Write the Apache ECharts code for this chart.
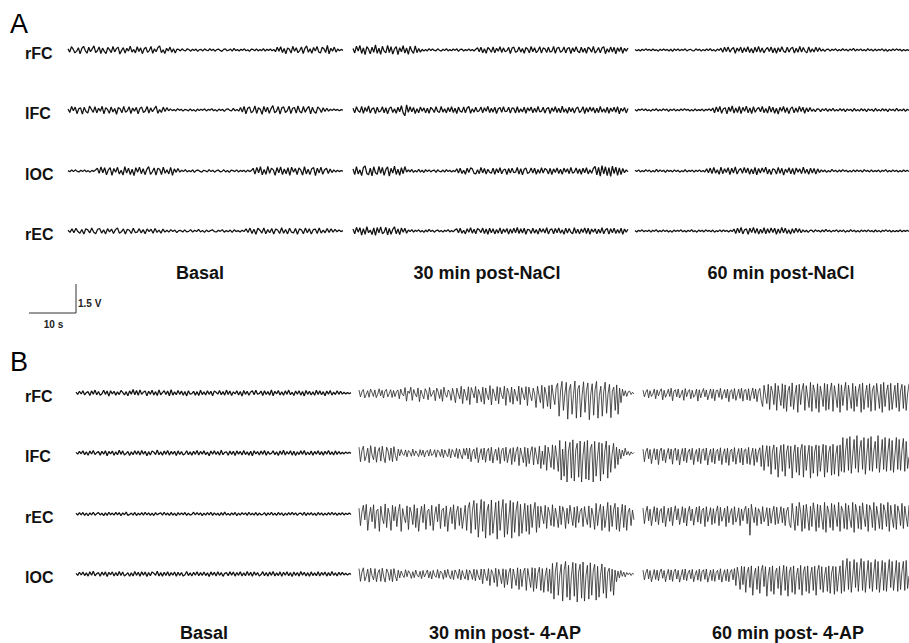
<!DOCTYPE html>
<html><head><meta charset="utf-8">
<script src="https://cdn.jsdelivr.net/npm/echarts@6/dist/echarts.min.js"></script>
<style>html,body{margin:0;padding:0;background:#fff}#c{width:909px;height:643px}</style>
</head><body><div id="c"></div>
<script>
// ---------- labels ----------
const channelsA = ['rFC', 'lFC', 'lOC', 'rEC'];
const channelsB = ['rFC', 'lFC', 'rEC', 'lOC'];
const conditionsA = ['Basal', '30 min post-NaCl', '60 min post-NaCl'];
const conditionsB = ['Basal', '30 min post- 4-AP', '60 min post- 4-AP'];
const segmentSeconds = 58.5;      // length of each recording segment (s)
const scaleBarSeconds = 10;       // "10 s"
const scaleBarMV = 1500;          // "1.5 V"

// ---------- traces (mV) ----------
// Panel A
const A_rFC_basal = [60,-110,170,40,-150,-60,120,-200,80,190,-30,-170,140,-90,60,210,-130,-40,160,-180,100,-70,-190,130,20,-140,180,-100,70,150,-210,-20,120,-160,90,-60,200,-110,30,-150,170,-80,110,-190,50,140,-120,-30,180,-170,60,-90,130,210,-140,10,-180,90,-50,150,-120,70,-160,40,30,-50,60,-20,-40,70,10,-60,40,-30,50,-70,20,30,-50,60,-10,-40,70,-30,40,-60,20,50,-20,-70,30,60,-40,-10,50,-60,80,-30,20,-50,40,-20,60,-40,10,-70,50,30,-40,60,-50,20,-30,70,-60,40,-20,50,-40,30,-90,140,-60,170,-130,80,-200,110,40,-160,190,-70,120,-140,-30,160,-190,90,210,-120,60,-170,130,-50,180,-100,-160,140,70,-130,240,-200,90,-60,150,-110,50,-40,30,-20];
const A_lFC_basal = [50,-130,180,-40,150,-190,70,110,-210,140,-80,-160,200,40,-120,170,-150,90,-60,190,-200,120,30,-170,160,-100,80,-220,130,60,-140,190,-110,-40,170,-180,100,-60,140,-200,80,150,-130,-50,180,-160,110,-90,60,200,-170,20,-130,150,-80,120,-40,60,-30,20,-50,70,-20,40,-60,30,10,-50,60,-40,20,-70,50,-30,40,-20,60,-50,30,-10,70,-40,20,-60,50,-30,40,-70,30,60,-20,-50,80,-40,30,-60,130,-110,180,-200,90,160,-150,-60,210,-180,120,40,-220,190,-100,150,-170,70,230,-140,-60,180,-210,110,160,-130,-40,200,-190,90,130,-160,210,-80,-150,180,-120,70,190,-200,140,-90,-170,160,60,-130,120,-80,90,-60,40,-30,50,-20,30,-40,20,-10];
const A_lOC_basal = [20,-40,50,-30,60,-20,-50,40,-30,60,-40,20,-60,30,-20,50,150,-120,210,-90,170,-200,60,180,-230,130,-70,190,-160,40,-210,220,-110,150,-180,90,-240,170,-60,200,-140,120,-190,80,230,-170,-40,160,-210,140,90,-180,200,-120,60,-150,190,-220,110,-70,130,-60,40,-30,70,-50,20,-40,60,-70,30,50,-20,-60,40,10,-50,70,-30,40,-60,20,50,-40,-20,60,-50,30,-70,40,20,-30,60,-50,30,-20,40,-60,50,-30,20,140,-160,190,-90,220,-200,80,-170,240,-120,150,60,-220,180,-90,210,-190,100,-140,170,-230,200,-60,130,-180,160,40,-210,230,-150,90,-190,120,180,-240,150,-100,200,-170,60,140,-130,100,-80,60,-50,40,-30,20,-10];
const A_rEC_basal = [40,-70,110,-90,140,-30,-120,80,-160,120,60,-100,150,-70,-140,90,130,-110,60,-150,120,-50,100,-130,70,160,-120,-40,110,-150,90,40,-130,140,-80,-60,120,-100,70,-140,110,-30,90,-120,130,-70,50,-110,100,-60,40,-60,70,-30,50,-80,20,30,-50,60,-40,-20,70,-60,40,-30,80,-50,30,-70,50,-40,20,60,-30,-50,40,-20,70,-60,30,-40,50,-70,60,-30,20,-50,40,-30,110,-80,150,-130,90,-170,140,40,-110,160,-140,70,-90,130,-160,100,50,-130,170,-120,80,-150,140,-60,-100,130,-170,110,60,-140,150,-90,120,-160,70,100,-130,160,-110,40,-90,130,-70,110,-60,80,-40,50,-30,20];
const A_rFC_nacl30 = [80,-150,200,-60,230,-180,110,-240,170,40,-200,150,-120,260,-170,90,-220,190,-60,-150,240,-130,170,-210,60,180,-240,120,-90,220,-160,100,-230,190,-50,-180,210,-140,80,-110,40,-60,30,-50,70,-30,50,-20,-40,60,-10,-60,40,-30,70,-50,20,-40,50,-20,60,-70,30,40,-50,20,-30,60,-40,30,-50,40,120,-90,150,-140,60,-170,130,40,-120,160,-150,90,-60,170,-130,110,-90,-40,140,-180,100,150,-120,-70,160,-110,80,-170,130,50,-150,180,-90,120,-140,-30,170,-160,110,60,-130,150,-100,-70,180,-170,90,140,-120,-50,160,-150,80,130,-180,110,-90,170,-60,-140,150,-120,90,-170,140,60,-110,180,-160,-40,130,-150,100,170,-190,70,-120,160,-100,140,-200,120,-80,150,-170,90,-60,100];
const A_lFC_nacl30 = [90,-150,170,-40,-120,190,-170,130,-80,210,-160,60,110,-190,150,-100,-50,170,-140,120,-200,80,160,-130,60,-170,140,-90,220,-150,-300,260,-120,170,-90,130,-180,70,-140,160,-60,110,-150,90,-170,140,40,-130,170,-80,-120,180,-110,60,-150,130,-90,170,-130,90,-180,150,-60,-110,160,-140,100,180,-170,70,-120,140,-90,-40,160,-150,120,-70,190,-140,90,-110,150,-180,60,130,-120,170,-90,-60,140,-160,110,80,-150,170,-130,60,-100,150,-170,120,-50,160,-140,90,-120,180,-100,-60,140,-160,70,130,-190,110,-80,170,-130,90,-150,200,-120,60,-170,140,-90,110,-160,80,150,-130,-40,170,-180,120,-100,150,-70,130,-160,90,-140,180,-110,60,-130,150,-170,100,-80,140,-120,170,-200,90,-60,130,-150,80];
const A_lOC_nacl30 = [110,-190,230,-150,60,-240,180,260,-130,-200,150,-250,220,-90,-170,240,-120,190,-230,80,210,-260,140,-110,250,-180,100,-220,170,-140,230,-60,60,-40,80,-70,30,-50,90,-60,40,-80,70,-30,60,-50,20,40,-70,60,-20,-40,50,-60,70,-30,40,-50,30,-40,120,-100,150,-130,40,-170,140,-80,160,110,-120,-150,70,-140,180,-100,130,-160,90,-60,-120,150,-170,120,-90,170,-140,50,100,-180,130,-110,150,-90,-60,180,-160,120,-200,90,150,-130,-70,160,-110,140,-170,80,-120,170,-100,130,60,-150,140,-180,110,-80,160,-130,90,-170,150,-60,120,-140,180,-110,-50,160,-130,100,-170,140,-90,170,-150,60,-120,130,240,-200,190,-260,280,-150,220,-240,170,-280,250,-130,200,-230,160,-180,130,-90,60,-40];
const A_rEC_nacl30 = [100,-150,190,-60,170,-210,120,-170,220,-90,50,-180,160,-230,180,-100,210,-140,-60,190,-200,130,-170,80,220,-150,110,-190,160,-70,140,-120,50,-30,70,-60,40,-20,60,-50,30,-70,50,-40,80,-30,40,-60,20,50,-40,30,-60,40,-20,70,-50,30,-40,60,110,-90,140,-120,40,-150,120,-60,170,-110,90,-140,130,60,-80,150,-130,100,-170,140,-90,120,-150,80,-110,160,-140,100,-70,130,-160,110,-120,150,-90,180,-130,120,-100,140,-170,90,60,-130,150,-110,80,-160,140,-70,120,-100,170,-150,60,110,-140,130,-90,160,-120,70,-170,150,-100,130,-60,-140,170,-120,90,-150,110,-80,160,-130,140,-170,100,-60,120,-150,90,-110,170,-140,60,130,-160,120,-90,150,-130,80,-110,140,-170,100,-60,90];
const A_rFC_nacl60 = [30,-40,20,-50,40,-30,60,-20,30,-40,50,-30,20,-60,40,-30,50,-20,30,-50,40,-70,60,-30,50,-40,30,-20,60,-50,10,40,-30,-50,60,-20,40,-60,30,-40,50,-30,70,-40,20,-60,50,-20,90,-120,140,-80,160,-110,50,130,-170,100,-60,150,-140,120,-90,170,-130,80,-160,140,-100,190,-120,110,-150,30,130,-80,160,-140,100,-170,120,-90,170,-60,-130,150,-110,80,140,-160,90,-120,180,-100,130,-70,-150,160,-120,60,-100,140,-80,110,-60,40,-70,30,50,-60,40,-20,60,-50,30,-40,70,-30,40,-60,50,-20,80,-50,40,-30,60,-40,20,-50,70,-30,40,-60,50,-40,30,-20,60,-50,40,-70,30,-40,50,-30,60,-20,40,-50,30,-40,20,-30];
const A_lFC_nacl60 = [30,-50,40,-20,60,-30,50,-40,20,-60,40,-30,70,-50,30,-40,60,-20,50,-70,40,-30,60,-50,20,-40,50,-30,70,-20,40,-60,30,-50,60,-40,20,-30,50,-60,40,-20,60,-40,100,-140,160,-90,190,-170,60,120,-200,150,-80,210,-160,100,-130,180,-190,140,-70,200,-150,110,-180,170,-120,50,130,-90,190,-140,80,-160,200,-110,150,-170,90,-210,140,-60,180,-130,120,-190,70,160,-150,100,-120,190,-80,140,-170,110,-90,130,-70,50,-90,60,40,-80,60,-30,80,-70,50,-40,90,-60,30,-50,70,-40,60,-80,50,-30,40,-70,80,-50,30,-60,70,-40,50,-90,60,-30,40,-70,80,-50,30,-60,70,-40,50,-80,60,-30,40,-60,90,-50,30,-40,60,-70,40,-30];
const A_lOC_nacl60 = [40,-30,60,-50,30,-40,70,-20,50,-60,30,-50,80,-40,60,-30,40,-70,50,-20,30,-50,60,-30,40,-60,20,-40,70,-50,30,-20,50,-60,40,-30,60,-40,30,-50,110,-90,150,-130,180,-110,60,-170,200,-140,120,-80,170,-190,140,-100,210,-160,40,130,-120,190,-90,150,-170,110,-140,180,-200,130,-100,160,-70,200,-150,90,-180,120,60,-160,190,-120,140,-210,100,-80,170,-150,130,-190,160,-60,110,-140,200,-120,90,-170,150,-100,130,-160,110,-80,60,-40,50,-70,30,-50,80,-30,40,-60,50,-40,70,-20,40,-60,30,-50,60,-40,50,-30,40,-60,70,-20,30,-50,60,-40,20,-30,50,-60,40,-20,70,-50,30,-40,60,-30,40,-50,20,-40,50,-30,40,-20];
const A_rEC_nacl60 = [30,-50,40,-20,60,-40,30,-30,50,-60,40,-20,70,-50,30,-40,60,-30,40,-50,20,-60,50,-30,40,-20,60,-40,30,-50,40,-30,70,-40,20,-60,50,-30,40,-50,60,-20,30,-40,50,-60,20,-30,60,-40,50,-20,30,-50,40,-30,100,-130,150,-90,180,-150,60,110,-170,140,-80,190,-120,130,-160,90,-110,170,-140,120,-100,160,-80,140,-170,100,-120,180,-90,150,-130,70,-160,120,-100,140,-70,110,-90,60,-50,40,-70,30,40,-60,60,-20,30,-50,50,-40,80,-30,40,-60,30,-20,60,-50,40,-30,50,-60,20,-40,70,-30,40,-50,30,-60,50,-20,40,-40,60,-30,20,-50,50,-40,30,-60,40,-20,60,-30,40,-50,30,-40,20,-30,50,-40,30,-20,40,-30];
// Panel B
const B_rFC_basal = [40,-70,90,-50,120,-100,20,70,-130,110,-60,150,-90,80,-120,-40,140,-70,100,-160,120,-50,90,-110,60,-80,130,30,-100,70,-140,110,-60,180,-90,130,-120,160,-70,40,110,-150,90,-60,140,-100,70,-130,160,-90,20,120,-80,100,-140,170,-110,60,-90,130,-70,100,-120,80,-150,120,-60,-30,90,-110,70,-130,140,-80,60,-100,120,-70,90,-140,110,40,-60,130,-90,70,-110,150,-80,100,-130,60,-50,120,-100,80,-160,130,-70,90,-120,50,110,-90,140,-60,-30,100,-130,120,-80,70,-110,160,-140,90,-50,130,-100,60,-120,110,-70,150,-90,40,-130,100,-60,120,-110,80,-150,130,-70,90,-100,60,-120,140,-80,110,-90,70,-140,100,-60,130,-110,50,-80,120,-70,90,-60,40,-50,30,-40,20];
const B_lFC_basal = [30,-60,80,-40,110,-90,60,-120,100,-50,130,-80,20,70,-110,90,-60,120,-140,80,-50,100,-120,60,-90,140,-70,110,-100,-30,80,-130,60,-90,120,-70,100,-110,130,-60,90,-140,70,-100,110,40,-80,150,-90,60,-120,100,-70,130,-110,80,-60,90,-130,110,-80,70,-100,-40,120,-90,60,-110,90,-70,130,-100,80,-60,110,-90,50,-140,100,-60,120,-80,70,-110,140,-90,30,60,-120,100,-70,90,-130,110,-60,80,-100,130,-80,60,-110,90,-140,120,-50,70,-100,100,-70,130,-120,80,-60,-20,110,-90,60,-130,100,-80,140,-100,70,-60,120,-110,90,-130,60,-80,110,-70,130,-100,50,-90,100,-120,80,-60,120,-90,70,-110,90,-60,130,-80,60,-100,110,-70,80,-60,40,-50,60,-30,40,-20];
const B_rEC_basal = [40,-60,70,-40,80,-70,50,-90,60,-40,90,-60,20,70,-50,40,-80,60,-70,90,-40,50,-60,80,-50,70,-90,60,-40,100,-70,-20,50,-60,80,-80,40,-50,70,-60,90,-50,60,-70,40,-80,70,-40,20,60,-60,90,-50,50,-70,80,-60,40,-90,70,-50,60,-40,80,-70,50,-60,-20,90,-50,70,-40,60,-80,50,-60,70,-40,90,-70,60,-50,40,-80,70,-60,100,-50,30,-70,60,-40,80,-90,50,-60,70,-30,60,-70,90,-50,40,-60,80,-70,50,-40,-20,70,-80,60,-50,90,-60,40,-70,80,-40,60,-90,50,-60,70,-50,80,-40,60,-70,30,50,-60,90,-80,60,-40,70,-60,50,-80,80,-50,60,-70,40,-60,70,-50,90,-40,60,-70,50,-40,70,-50,40,-30,50,-20];
const B_lOC_basal = [30,-70,90,-50,100,-80,60,-110,120,-60,140,-90,20,70,-120,100,-60,110,-130,90,-40,110,-100,70,-90,130,-80,100,-110,-30,70,-120,60,-100,130,-70,90,-120,120,-60,100,-130,80,-90,110,40,-70,140,-100,70,-110,90,-80,120,-100,70,-60,100,-120,90,-70,80,-110,-40,130,-80,60,-100,90,-60,120,-90,70,-70,100,-80,60,-130,110,-60,90,-100,120,-70,80,-120,30,70,-90,110,-60,100,-110,80,-70,120,-100,60,-90,130,-80,90,-120,110,-60,70,-100,-30,120,-90,80,-110,100,-70,130,-100,60,-80,110,-120,90,-60,120,-90,70,-130,100,-70,80,-110,130,-60,90,-100,70,-120,110,-80,60,-90,120,-100,80,-60,100,-110,70,-90,130,-70,60,-100,90,-60,80,-50,40,-60,30,-20];
const B_rFC_ap30 = [150,-200,60,180,-250,-80,120,-220,200,40,-180,160,-240,-60,220,-150,140,-260,90,190,-200,-30,170,-230,130,-190,60,160,-300,200,-60,-150,280,-420,100,-20,300,-380,180,-50,-200,260,-450,150,-80,-300,220,40,-350,290,-180,-40,140,-400,250,60,-280,180,-430,300,-70,-220,160,20,-380,240,-100,-500,250,-50,-300,350,-550,200,-80,-380,320,-600,280,30,-250,340,-520,180,-60,-450,300,-580,260,-100,-350,380,-620,220,-40,-400,330,-560,290,-90,-300,350,-640,250,10,-480,310,-580,200,-120,-420,360,-600,280,-60,-350,330,-650,300,-80,-400,250,-50,-750,350,-100,-500,400,-800,300,-60,-700,380,-820,420,-150,-600,300,500,-1200,100,600,-900,-50,550,-1350,150,450,-1100,-80,620,-1300,200,400,-1250,-100,580,-1000,120,520,-1380,-60,480,-1150,180,600,-1300,-120,350,-1200,60,560,-1050,-40,450,-1280,100,300,-900,420,-1100,250,-500,200,-150,120,-180,60,100,-80,40,-50];
const B_lFC_ap30 = [300,-450,120,350,-400,-150,250,-500,380,-100,-350,320,-480,80,280,-420,350,-200,-500,300,100,-380,260,-450,330,-120,-400,200,-150,180,-60,-120,160,-200,130,40,-170,200,-140,110,-30,-190,170,-120,150,-210,60,140,-160,190,-130,-50,170,-220,150,80,-180,200,-240,160,-60,-190,220,-260,180,30,-200,240,-280,200,-90,-300,230,-120,260,-310,250,-450,60,200,-300,280,-500,-80,220,-350,260,-480,100,240,-400,300,-520,-40,200,-380,280,-550,120,250,-420,300,-500,-60,230,-600,280,-450,80,320,-650,260,-100,-500,300,-700,250,-550,60,330,-620,280,-150,-580,350,-800,100,-600,400,-900,300,-150,-750,420,-850,380,-200,-950,650,-1400,200,-1200,600,-1500,100,550,-1300,680,-1450,150,500,-1250,620,-1500,-100,580,-1350,650,-1400,200,450,-1500,600,-1200,-150,550,-1450,500,-1100,100,620,-1300,400,-1000,-50,500,-800,300,-600,200,-300,150,-150,250,-100,80,-120,60,-50,30];
const B_rEC_ap30 = [300,-600,100,450,-300,500,-850,-100,350,-400,480,-750,150,250,-900,400,-200,-500,520,-700,300,-50,-850,450,-350,380,-650,120,500,-900,280,-150,-450,420,-800,350,60,-550,480,-700,300,-900,-100,400,-450,500,-800,150,250,-600,450,-850,-60,380,-400,520,-750,200,300,-650,420,-900,-80,350,-500,480,-800,100,400,-600,320,-750,-150,450,-850,300,600,-1000,200,700,-800,550,-1200,-100,750,-900,650,-1250,150,500,-1100,720,-1000,-200,600,-1300,680,-850,100,750,-1200,550,-1050,-150,700,-1250,600,-950,200,650,-1150,500,-1000,-100,550,-900,450,-1050,500,-700,150,600,-950,400,-700,400,-100,-500,450,-750,350,60,-600,480,-650,300,-150,-700,420,-550,380,100,-750,300,-500,450,-80,-600,350,-700,400,-450,120,300,-650,380,-200,-550,420,-700,300,-100,-800,550,-600,100,500,-850,400,-700,-150,600,-900,450,-650,200,550,-800,350,-900,-100,500,-700,450,-850,100,300,-600,200,-300];
const B_lOC_ap30 = [280,-380,100,320,-350,-120,250,-420,300,-80,-300,280,-400,60,230,-380,300,-150,-420,260,80,-330,240,-400,280,-100,-360,200,-200,150,-60,-180,220,-140,170,40,-230,120,-190,200,-60,-160,140,-240,180,-150,30,210,-200,130,-260,190,-80,-170,230,-220,150,60,-270,200,-180,240,-100,-250,170,-290,210,40,-230,250,-300,180,-90,-260,230,-320,200,20,-280,250,-350,220,-100,-300,260,-500,250,-80,-350,280,-600,220,20,-450,300,-650,240,-100,-500,270,-700,230,-550,60,300,-750,260,-150,-600,320,-800,250,-650,100,300,-850,280,-200,-700,330,-900,300,-750,50,350,-850,280,-950,-100,320,-900,250,-1000,550,-1300,150,600,-1100,-50,500,-1400,200,650,-1200,450,-1350,-100,600,-1150,550,-1450,100,500,-1250,620,-1400,-80,450,-1300,580,-1100,150,500,-1350,400,-1200,-60,520,-1000,350,-1250,100,300,-900,250,-1100,200,-400,150,-200,180,-120,100,-150,80,-40,60,-80,40,-20];
const B_rFC_ap60 = [150,-200,40,180,-250,120,-180,-60,200,-300,160,-150,80,220,-350,140,-220,-40,190,-180,250,-400,100,170,-200,210,-260,-80,150,-380,230,-190,60,180,-300,140,-220,-100,200,-420,170,-250,50,230,-200,160,-350,-60,210,-280,190,-400,120,150,-230,240,-330,-40,180,-260,200,-450,100,170,-300,230,-380,-90,200,-280,250,-420,140,180,-350,220,-400,-60,260,-300,210,-450,80,240,-380,-700,400,-100,-550,450,-850,350,60,-600,500,-900,380,-150,-650,480,-800,420,-950,100,350,-700,520,-850,-80,400,-1000,450,-600,150,500,-900,380,-200,-750,550,-950,420,50,-800,480,-1000,350,-100,-700,500,-900,450,-850,120,520,-950,380,-150,-750,480,-1000,420,-650,80,550,-900,400,-200,-800,500,-950,350,-700,100,450,-1000,520,-850,-60,400,-750,480,-950,150,380,-900,500,-100,-800,450,-1000,550,-700,60,420,-900,500,-850,-150,400,-750,520,-950,100,450,-800,380,-900,-50,480];
const B_lFC_ap60 = [200,-450,60,250,-300,180,-550,-80,230,-350,200,-600,100,260,-400,180,-500,-40,240,-320,210,-580,120,250,-380,190,-620,-100,230,-420,260,-500,50,200,-350,240,-600,-60,180,-450,250,-550,140,220,-380,260,-620,-120,200,-480,240,-560,80,190,-400,270,-600,-50,220,-500,250,-640,100,200,-450,280,-580,-80,230,-500,260,-620,150,210,-550,290,-600,-100,250,-650,220,-480,60,270,-700,400,-900,-100,380,-700,350,-1100,100,420,-850,300,-1250,-150,400,-950,450,-1200,60,380,-800,350,-1300,-50,420,-1000,300,-1150,150,450,-1250,380,-900,-100,400,-1300,350,-1050,80,420,-1200,380,-950,-150,450,-1250,400,-1000,50,350,-1150,450,-1100,-80,380,-1200,420,-950,800,-1000,150,750,-900,850,-1050,-100,700,-800,900,-1000,200,650,-850,800,-1100,-50,750,-900,850,-950,100,600,-800,900,-1000,-150,700,-850,800,-950,50,750,-900,650,-1000,-100,800,-850,700,-900,150,750,-950,600,-800,-200];
const B_rEC_ap60 = [300,-500,80,400,-350,250,-600,-60,380,-400,320,-550,150,280,-450,400,-650,-100,300,-380,350,-600,60,420,-300,280,-550,-150,380,-450,300,-620,100,400,-350,260,-580,-50,350,-420,400,-500,200,300,-650,380,-400,-80,330,-550,280,-480,120,420,-600,350,-380,-100,300,-650,400,-450,50,280,-550,380,-420,-150,320,-600,260,-350,180,400,-500,300,-1100,500,-60,-450,350,-600,280,100,-520,380,-400,-120,330,-620,300,-480,60,400,-550,350,-500,-100,380,-450,300,-600,150,350,-500,-700,550,-200,-850,400,-600,600,100,-900,450,-750,500,-150,-850,400,-650,580,50,-900,500,-700,450,-200,-800,600,-950,420,100,-700,550,-850,480,-100,-650,600,-900,400,150,-750,550,-800,450,-250,-700,600,-950,500,100,-750,420,-800,580,-150,-650,500,-900,450,200,-700,600,-850,400,-100,-750,550,-800,480,150,-650,600,-900,450,-200,-700,500,-800,420,100,-600,550,-750,400,-150,-650,450];
const B_lOC_ap60 = [200,-300,60,250,-250,180,-400,-80,230,-280,200,-350,100,260,-220,180,-400,-40,240,-300,210,-380,120,250,-260,190,-420,-100,230,-300,260,-350,50,200,-250,240,-400,-60,180,-320,250,-380,140,220,-280,260,-420,-120,200,-340,240,-380,80,190,-300,270,-420,-50,220,-350,250,-400,100,230,-300,280,-600,350,-100,-800,400,-550,380,-950,80,350,-700,420,-1100,-50,300,-800,400,-1000,150,450,-650,380,-1150,-100,350,-900,420,-1050,60,300,-750,400,-1100,-150,450,-850,380,-1150,100,350,-950,420,-1050,-80,300,-800,450,-1100,120,380,-900,420,-1000,-60,350,-850,400,-1100,150,450,-800,380,-950,-100,350,-900,420,-1000,50,400,-1050,380,-900,-120,420,-1000,700,-900,150,800,-800,650,-950,-100,750,-700,600,-900,200,800,-850,650,-950,-50,700,-750,600,-900,100,750,-800,650,-950,-150,700,-850,600,-900,50,750,-700,650,-850,-100,700,-900,600,-800,150,650,-850,700,-750,-100];

// ---------- layout ----------
const mvPerPx = 1500 / 29;           // vertical scale of the recordings
const pxPerSec = 47 / 10;            // horizontal scale of the recordings
const yLim = 2100;
const gridH = 2 * yLim / mvPerPx;
const segW = segmentSeconds * pxPerSec;
const FONT = '"Liberation Sans", Arial, sans-serif';

const panels = [
  { letter: 'A', letterY: 25, rows: [50, 110, 171, 231], segX: [68, 353, 635],
    channels: channelsA, conds: conditionsA, condX: [200, 487, 781], condY: 273,
    seizure: [false, false, false],
    traces: [[A_rFC_basal, A_rFC_nacl30, A_rFC_nacl60],
             [A_lFC_basal, A_lFC_nacl30, A_lFC_nacl60],
             [A_lOC_basal, A_lOC_nacl30, A_lOC_nacl60],
             [A_rEC_basal, A_rEC_nacl30, A_rEC_nacl60]] },
  { letter: 'B', letterY: 363, rows: [393, 453, 514, 574], segX: [76, 359, 643],
    channels: channelsB, conds: conditionsB, condX: [204, 505, 788], condY: 633,
    seizure: [false, true, true],
    traces: [[B_rFC_basal, B_rFC_ap30, B_rFC_ap60],
             [B_lFC_basal, B_lFC_ap30, B_lFC_ap60],
             [B_rEC_basal, B_rEC_ap30, B_rEC_ap60],
             [B_lOC_basal, B_lOC_ap30, B_lOC_ap60]] }
];

const grid = [], xAxis = [], yAxis = [], series = [], graphic = [];
let gi = 0;
panels.forEach(p => {
  graphic.push({ type: 'text', left: 10, top: p.letterY - 15, silent: true,
    style: { text: p.letter, font: '27px ' + FONT, fill: '#000' } });
  p.rows.forEach((y, r) => {
    graphic.push({ type: 'text', x: 25, y: y + 3, silent: true,
      style: { text: p.channels[r], font: 'bold 16px ' + FONT, fill: '#111',
               textAlign: 'left', textVerticalAlign: 'middle' } });
    p.segX.forEach((x0, s) => {
      const arr = p.traces[r][s];
      const sz = p.seizure[s];
      grid.push({ left: x0, top: y - gridH / 2, width: segW, height: gridH });
      xAxis.push({ type: 'value', gridIndex: gi, min: 0, max: segmentSeconds, show: false });
      yAxis.push({ type: 'value', gridIndex: gi, min: -yLim, max: yLim, show: false });
      series.push({ type: 'line', xAxisIndex: gi, yAxisIndex: gi, showSymbol: false,
        silent: true, animation: false,
        lineStyle: { width: sz ? 0.8 : 1.25, color: sz ? '#262626' : '#111', join: 'bevel' },
        data: arr.map((v, i) => [i * segmentSeconds / (arr.length - 1), v]) });
      gi++;
    });
  });
  p.conds.forEach((c, s) => {
    graphic.push({ type: 'text', x: p.condX[s], y: p.condY, silent: true,
      style: { text: c, font: 'bold 18px ' + FONT, fill: '#111',
               textAlign: 'center', textVerticalAlign: 'middle' } });
  });
});

// scale bar
const sbX = 76, sbY = 313;
const sbW = scaleBarSeconds * pxPerSec, sbH = scaleBarMV / mvPerPx;
graphic.push({ type: 'polyline', silent: true,
  shape: { points: [[sbX - sbW, sbY], [sbX, sbY], [sbX, sbY - sbH]] },
  style: { stroke: '#333', lineWidth: 1, fill: null } });
graphic.push({ type: 'text', x: sbX + 2, y: sbY - 10, silent: true,
  style: { text: (scaleBarMV / 1000) + ' V', font: 'bold 10px ' + FONT, fill: '#222',
           textAlign: 'left', textVerticalAlign: 'middle' } });
graphic.push({ type: 'text', x: sbX - sbW / 2 + 1, y: sbY + 11, silent: true,
  style: { text: scaleBarSeconds + ' s', font: 'bold 10px ' + FONT, fill: '#222',
           textAlign: 'center', textVerticalAlign: 'middle' } });

const chart = echarts.init(document.getElementById('c'), null, { renderer: 'svg' });
chart.setOption({ animation: false, backgroundColor: '#fff', grid, xAxis, yAxis, series, graphic });
</script></body></html>
